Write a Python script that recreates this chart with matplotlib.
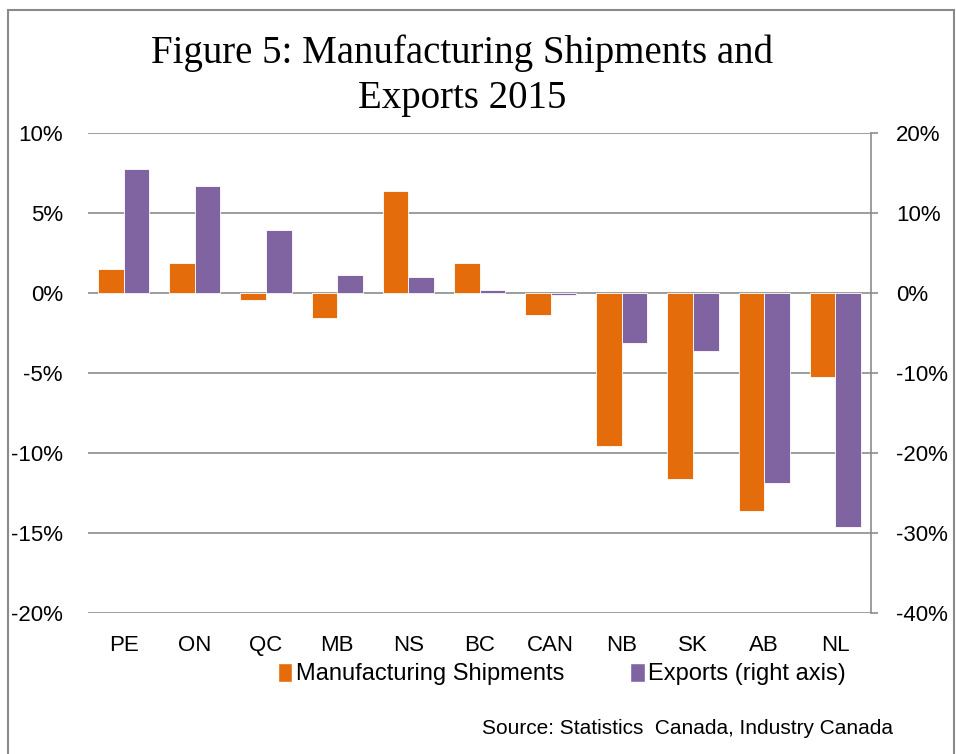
import numpy as np
import matplotlib
matplotlib.use("Agg")
import matplotlib.pyplot as plt
from matplotlib.patches import Rectangle, Patch
from matplotlib.ticker import FuncFormatter, MultipleLocator

# data
provinces = ["PE", "ON", "QC", "MB", "NS", "BC", "CAN", "NB", "SK", "AB", "NL"]
shipments = [1.5, 1.9, -0.45, -1.55, 6.4, 1.9, -1.35, -9.55, -11.6, -13.65, -5.25]   # left axis, %
exports = [15.5, 13.4, 7.9, 2.2, 2.05, 0.4, -0.2, -6.2, -7.2, -23.8, -29.25]        # right axis, %

ORANGE = "#E46C0A"
PURPLE = "#8064A2"
GRID = "#8c8c8c"
SANS = ["Liberation Sans", "DejaVu Sans"]
SERIF = ["Liberation Serif", "DejaVu Serif"]

W, H = 956, 754
fig = plt.figure(figsize=(W / 100, H / 100), dpi=100)
fig.patch.set_facecolor("white")

# outer frame of the chart
fig.patches.append(Rectangle((8 / W, -0.02), (954 - 8) / W, 1 - 10 / H + 0.02,
                             transform=fig.transFigure, fill=False,
                             edgecolor="#8a8a8a", linewidth=1.5))

ax = fig.add_axes([88 / W, 1 - 613 / H, (871 - 88) / W, (613 - 133) / H])
ax2 = ax.twinx()

x = np.arange(len(provinces))
bw = 0.36
ax.bar(x - bw / 2, shipments, width=bw, color=ORANGE, edgecolor="white", linewidth=0.6, zorder=3)
ax2.bar(x + bw / 2, exports, width=bw, color=PURPLE, edgecolor="white", linewidth=0.6, zorder=3)

ax.set_xlim(-0.5, len(provinces) - 0.5)
ax.set_ylim(-20, 10)
ax2.set_ylim(-40, 20)
ax.yaxis.set_major_locator(MultipleLocator(5))
ax2.yaxis.set_major_locator(MultipleLocator(10))

pct = FuncFormatter(lambda v, p: f"{v:.0f}%")
ax.yaxis.set_major_formatter(pct)
ax2.yaxis.set_major_formatter(pct)

ax.grid(axis="y", color=GRID, linewidth=1.2, zorder=0)
ax.set_axisbelow(True)

for a in (ax, ax2):
    for s in a.spines.values():
        s.set_visible(False)
ax2.spines["right"].set_visible(True)
ax2.spines["right"].set_color(GRID)
ax2.spines["right"].set_linewidth(1.2)

ax.set_xticks(x)
ax.set_xticklabels(provinces, fontfamily=SANS, fontsize=16)
ax.tick_params(axis="x", length=0, pad=16)
ax.tick_params(axis="y", length=0, pad=18, labelsize=16)
ax2.tick_params(axis="y", length=5, width=1.2, color=GRID, pad=13, labelsize=16)
for lab in ax.get_yticklabels() + ax2.get_yticklabels():
    lab.set_fontfamily(SANS)

fig.text(462 / W, 1 - 76 / H, "Figure 5: Manufacturing Shipments and\nExports 2015",
         ha="center", va="center", fontfamily=SERIF, fontsize=28, linespacing=1.3)

handles = [Patch(facecolor=ORANGE, edgecolor="white"), Patch(facecolor=PURPLE, edgecolor="white")]
fig.legend(handles, ["Manufacturing Shipments", "Exports (right axis)"],
           loc="center", bbox_to_anchor=(562 / W, 1 - 674 / H), ncol=2, frameon=False,
           prop={"family": SANS, "size": 17}, handlelength=0.6, handleheight=0.9,
           handletextpad=0.15, columnspacing=2.8)

fig.text(893 / W, 1 - 729 / H, "Source: Statistics  Canada, Industry Canada",
         ha="right", va="center", fontfamily=SANS, fontsize=15)

fig.savefig("out.png", dpi=100)
